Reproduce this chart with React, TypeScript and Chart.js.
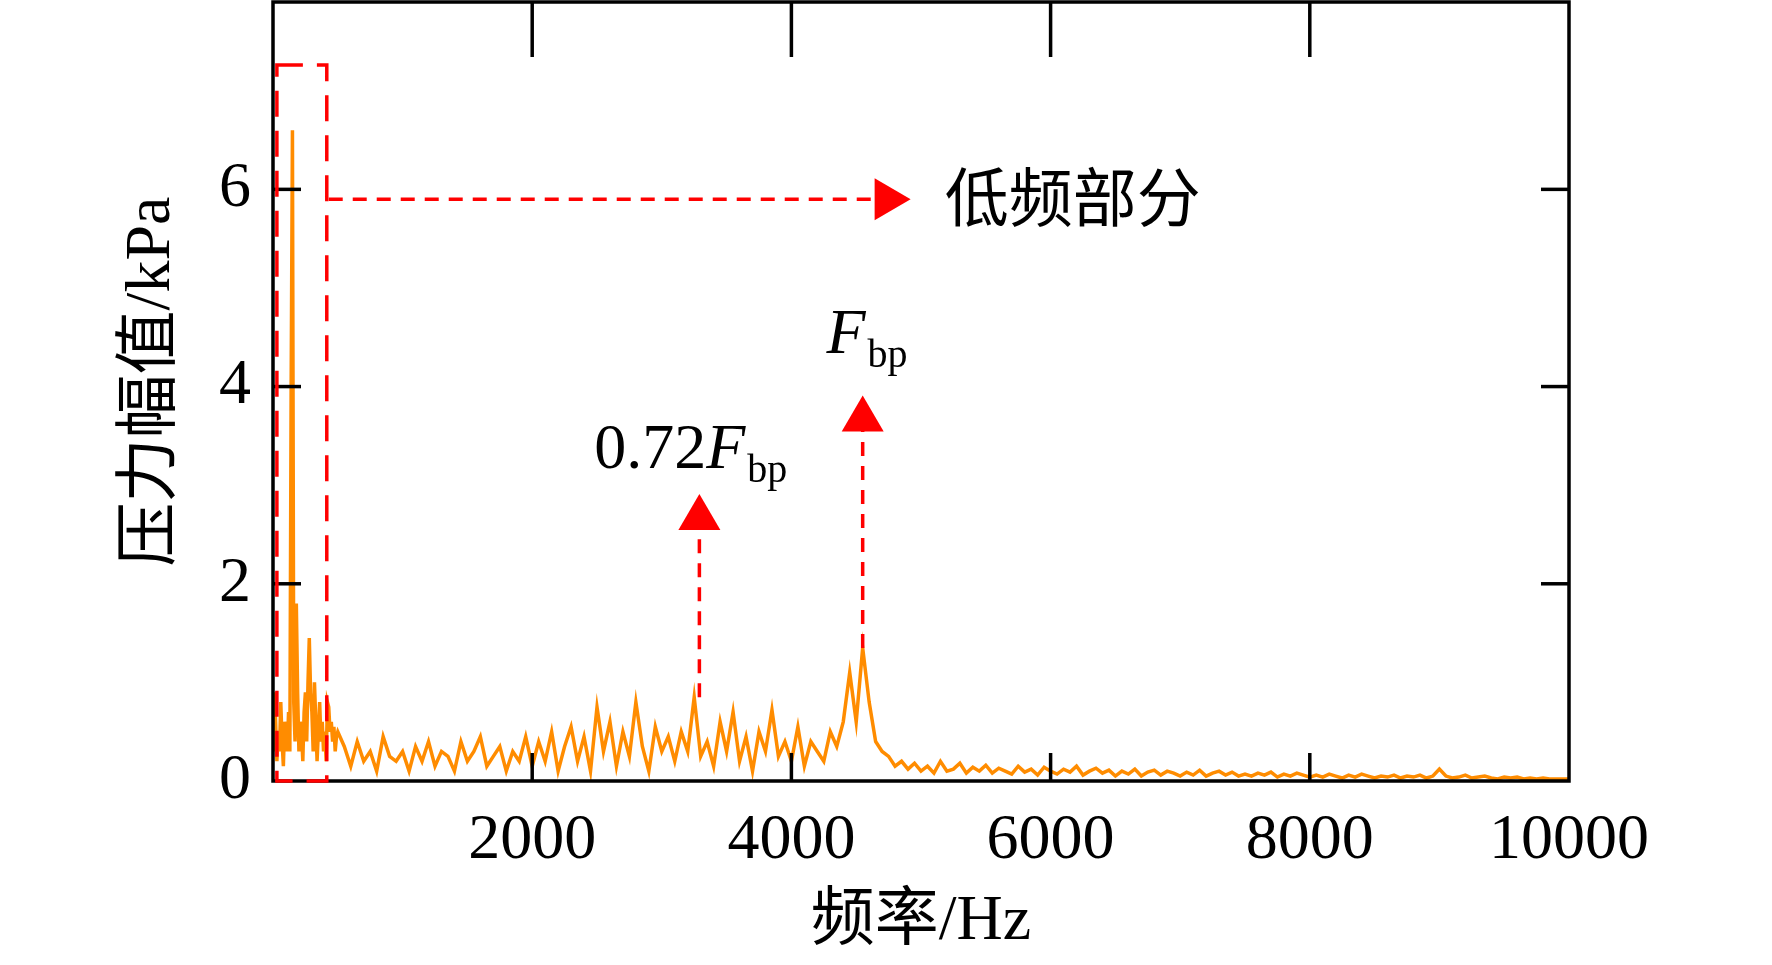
import React, { useEffect, useRef } from "react";
import { Chart, registerables } from "chart.js";
Chart.register(...registerables);

const lowFreqValues = [0.3,0.9,0.6,0.2,0.5,0.3,0.8,0.4,0.15,0.6,0.5,0.3,0.7,0.3,4.0,6.6,0.8,0.4,1.8,0.9,0.3,0.6,0.5,0.2,0.7,0.9,0.4,1.0,1.45,0.9,0.7,0.3,1.0,0.6,0.2,0.5,0.8,0.4,0.6,0.3,0.5,0.2,0.8,0.75,0.5,0.6,0.4,0.55,0.3,0.45,0.5];
const highFreqValues = [
0.35,0.15,0.4,0.2,0.3,0.1,0.45,0.25,0.2,0.3,
0.1,0.35,0.2,0.4,0.15,0.3,0.25,0.1,0.4,0.2,
0.3,0.45,0.15,0.25,0.35,0.1,0.3,0.2,0.45,0.15,
0.4,0.2,0.5,0.1,0.35,0.55,0.2,0.45,0.1,0.75,
0.3,0.6,0.15,0.5,0.25,0.8,0.35,0.1,0.55,0.3,
0.45,0.2,0.5,0.3,0.85,0.25,0.4,0.15,0.6,0.3,
0.7,0.2,0.45,0.1,0.5,0.3,0.72,0.25,0.4,0.2,
0.55,0.15,0.4,0.3,0.2,0.5,0.35,0.6,1.1,0.6,
1.35,0.8,0.4,0.3,0.25,0.15,0.2,0.12,0.18,0.1,
0.15,0.08,0.2,0.1,0.12,0.18,0.08,0.14,0.1,0.16,
0.08,0.13,0.1,0.07,0.15,0.09,0.12,0.06,0.14,0.1,
0.07,0.12,0.09,0.15,0.06,0.1,0.13,0.08,0.11,0.05,
0.1,0.07,0.12,0.05,0.09,0.11,0.06,0.1,0.08,0.05,
0.09,0.06,0.11,0.05,0.08,0.1,0.06,0.09,0.05,0.07,
0.05,0.08,0.06,0.09,0.04,0.07,0.05,0.08,0.06,0.04,
0.06,0.04,0.07,0.05,0.03,0.06,0.04,0.07,0.05,0.03,
0.05,0.04,0.06,0.03,0.05,0.04,0.06,0.03,0.05,0.12,
0.05,0.03,0.04,0.06,0.03,0.04,0.05,0.03,0.02,0.04,
0.03,0.04,0.02,0.03,0.02,0.03,0.02,0.02,0.02,0.02];
const lowStep = 10;
const highStart = 500;
const highStep = 50;

const xTicks = [2000, 4000, 6000, 8000, 10000];
const yTicks = [0, 2, 4, 6];
const boxRange = { x0: 30, x1: 415, y0: 0, y1: 7.26 };
const hArrow = { x0: 430, x1: 4920, y: 5.9 };
const vArrows = [
  { x: 3290, y0: 0.85, y1: 2.91 },
  { x: 4550, y0: 1.35, y1: 3.91 },
];
const lowLabel = { text: "低频部分", x: 5183, y: 5.85 };
const label072 = { pre: "0.72", x: 2478, y: 3.17 };
const labelF = { pre: "", x: 4270, y: 4.34 };
const yTitle = "压力幅值/kPa";

const SERIF = '"Liberation Serif", "Noto Sans CJK SC", serif';
const FONT = 64;

const overlay = {
  id: "overlay",
  afterDatasetsDraw(chart: any) {
    const { ctx, chartArea: a, scales } = chart;
    const xs = scales.x, ys = scales.y;
    ctx.save();
    ctx.strokeStyle = "#000";
    ctx.lineWidth = 3.5;
    ctx.beginPath();
    ctx.rect(a.left, a.top, a.right - a.left, a.bottom - a.top);
    ctx.stroke();
    [2000, 4000, 6000, 8000].forEach((v) => {
      const x = xs.getPixelForValue(v);
      ctx.beginPath(); ctx.moveTo(x, a.top); ctx.lineTo(x, a.top + 55); ctx.stroke();
      ctx.beginPath(); ctx.moveTo(x, a.bottom); ctx.lineTo(x, a.bottom - 28); ctx.stroke();
    });
    [2, 4, 6].forEach((v) => {
      const y = ys.getPixelForValue(v);
      ctx.beginPath(); ctx.moveTo(a.left, y); ctx.lineTo(a.left + 28, y); ctx.stroke();
      ctx.beginPath(); ctx.moveTo(a.right, y); ctx.lineTo(a.right - 28, y); ctx.stroke();
    });
    ctx.strokeStyle = "#ff0000";
    ctx.fillStyle = "#ff0000";
    ctx.lineWidth = 3.5;
    ctx.setLineDash([26, 14]);
    const bx0 = xs.getPixelForValue(boxRange.x0), bx1 = xs.getPixelForValue(boxRange.x1);
    const by0 = ys.getPixelForValue(boxRange.y0), by1 = ys.getPixelForValue(boxRange.y1);
    ctx.beginPath(); ctx.rect(bx0, by1, bx1 - bx0, by0 - by1); ctx.stroke();
    ctx.setLineDash([14, 10]);
    const hy = ys.getPixelForValue(hArrow.y);
    const hx0 = xs.getPixelForValue(hArrow.x0), hx1 = xs.getPixelForValue(hArrow.x1);
    ctx.beginPath(); ctx.moveTo(hx0, hy); ctx.lineTo(hx1 - 34, hy); ctx.stroke();
    ctx.setLineDash([]);
    ctx.beginPath(); ctx.moveTo(hx1, hy); ctx.lineTo(hx1 - 36, hy - 21); ctx.lineTo(hx1 - 36, hy + 21); ctx.closePath(); ctx.fill();
    vArrows.forEach((ar) => {
      const x = xs.getPixelForValue(ar.x);
      const y0 = ys.getPixelForValue(ar.y0), y1 = ys.getPixelForValue(ar.y1);
      ctx.setLineDash([14, 10]);
      ctx.beginPath(); ctx.moveTo(x, y0); ctx.lineTo(x, y1 + 34); ctx.stroke();
      ctx.setLineDash([]);
      ctx.beginPath(); ctx.moveTo(x, y1); ctx.lineTo(x - 21, y1 + 36); ctx.lineTo(x + 21, y1 + 36); ctx.closePath(); ctx.fill();
    });
    ctx.fillStyle = "#000";
    ctx.textBaseline = "middle";
    ctx.font = `${FONT}px ${SERIF}`;
    ctx.fillText(lowLabel.text, xs.getPixelForValue(lowLabel.x), ys.getPixelForValue(lowLabel.y));
    ctx.textBaseline = "alphabetic";
    [label072, labelF].forEach((l) => {
      let x = xs.getPixelForValue(l.x);
      const y = ys.getPixelForValue(l.y);
      ctx.font = `${FONT}px ${SERIF}`;
      if (l.pre) { ctx.fillText(l.pre, x, y); x += ctx.measureText(l.pre).width; }
      ctx.font = `italic ${FONT}px ${SERIF}`;
      ctx.fillText("F", x, y); x += ctx.measureText("F").width + 2;
      ctx.font = `40px ${SERIF}`;
      ctx.fillText("bp", x, y + 14);
    });
    // y title
    ctx.save();
    ctx.translate(152, (a.top + a.bottom) / 2 - 10);
    ctx.rotate(-Math.PI / 2);
    ctx.textAlign = "center";
    ctx.textBaseline = "middle";
    ctx.font = `${FONT}px ${SERIF}`;
    ctx.fillText(yTitle, 0, 0);
    ctx.restore();
    ctx.restore();
  },
};

export default function App() {
  const ref = useRef<HTMLCanvasElement>(null);
  useEffect(() => {
    const pts: { x: number; y: number }[] = [];
    lowFreqValues.forEach((v, i) => pts.push({ x: i * lowStep, y: v }));
    highFreqValues.forEach((v, i) => pts.push({ x: highStart + (i + 1) * highStep, y: v }));
    const chart = new Chart(ref.current!, {
      type: "line",
      data: { datasets: [{ data: pts, borderColor: "#ff8c00", borderWidth: 3.5, pointRadius: 0, tension: 0 }] },
      options: {
        animation: false,
        responsive: false,
        layout: { padding: { top: 2, right: 203, left: 0, bottom: 0 } },
        plugins: { legend: { display: false }, tooltip: { enabled: false } },
        scales: {
          x: {
            type: "linear", min: 0, max: 10000,
            afterBuildTicks: (s: any) => { s.ticks = xTicks.map((v) => ({ value: v })); },
            afterFit: (s: any) => { s.height = 184; },
            grid: { display: false }, border: { display: false },
            ticks: { color: "#000", font: { family: SERIF, size: FONT }, padding: 14, maxRotation: 0, callback: (v: any) => String(v) },
            title: { display: true, text: "频率/Hz", color: "#000", font: { family: SERIF, size: FONT }, padding: { top: 0 } },
          },
          y: {
            min: 0, max: 7.9,
            afterBuildTicks: (s: any) => { s.ticks = yTicks.map((v) => ({ value: v })); },
            afterFit: (s: any) => { s.width = 273; s.paddingTop = 0; },
            grid: { display: false }, border: { display: false },
            ticks: { color: "#000", font: { family: SERIF, size: FONT }, padding: 14 },
          },
        },
      },
      plugins: [overlay],
    });
    return () => chart.destroy();
  }, []);
  return (
    <div style={{ position: "absolute", left: 0, top: 0, width: 1772, height: 965, background: "#fff" }}>
      <canvas ref={ref} width={1772} height={965} />
    </div>
  );
}
